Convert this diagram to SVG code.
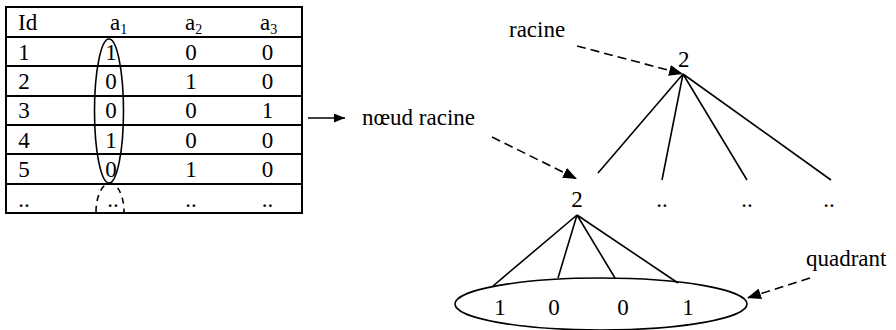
<svg xmlns="http://www.w3.org/2000/svg" width="896" height="330" viewBox="0 0 896 330">
<defs>
<style>
text{font-family:'Liberation Serif','Tinos','Times New Roman','DejaVu Serif',serif;font-size:23px;fill:#000}
.sub{font-size:14px}
.m{text-anchor:middle}
.ln{stroke:#000;stroke-width:1.6;fill:none}
.tb{stroke:#000;stroke-width:2;fill:none}
.ds{stroke:#000;stroke-width:1.6;fill:none;stroke-dasharray:9 5}
</style>
<marker id="ah" viewBox="0 0 14 11" refX="14" refY="5.5" markerWidth="14" markerHeight="11" markerUnits="userSpaceOnUse" orient="auto">
<path d="M0,0 L14,5.5 L0,11 z" fill="#000"/>
</marker>
<marker id="ahs" viewBox="0 0 11 9" refX="11" refY="4.5" markerWidth="11" markerHeight="9" markerUnits="userSpaceOnUse" orient="auto">
<path d="M0,0 L11,4.5 L0,9 z" fill="#000"/>
</marker>
</defs>
<rect width="896" height="330" fill="#fff"/>
<g id="table">
<rect class="tb" x="6" y="7" width="296" height="206"/>
<path class="tb" d="M6 37H302M6 66H302M6 96H302M6 125H302M6 154H302M6 184H302"/>
<text x="18" y="30">Id</text>
<text x="110" y="30">a<tspan class="sub" dy="4">1</tspan></text>
<text x="185" y="30">a<tspan class="sub" dy="4">2</tspan></text>
<text x="260" y="30">a<tspan class="sub" dy="4">3</tspan></text>
<g class="m">
<text x="24" y="60">1</text><text x="111" y="60">1</text><text x="191" y="60">0</text><text x="267.5" y="60">0</text>
<text x="24" y="89">2</text><text x="111" y="89">0</text><text x="191" y="89">1</text><text x="267.5" y="89">0</text>
<text x="24" y="118">3</text><text x="111" y="118">0</text><text x="191" y="118">0</text><text x="267.5" y="118">1</text>
<text x="24" y="148">4</text><text x="111" y="148">1</text><text x="191" y="148">0</text><text x="267.5" y="148">0</text>
<text x="24" y="177">5</text><text x="111" y="177">0</text><text x="191" y="177">1</text><text x="267.5" y="177">0</text>
<text x="24" y="207">..</text><text x="113" y="207">..</text><text x="191" y="207">..</text><text x="267.5" y="207">..</text>
</g>
<ellipse class="ln" cx="109" cy="111" rx="14.5" ry="72"/>
<path class="ln" stroke-dasharray="6 5" d="M96 212C96 195 103 183 110 183C117 183 124 195 124 212"/>
</g>
<g id="top-node">
<text x="678" y="67">2</text>
</g>
<g id="child-nodes">
<text x="577" y="207" class="m">2</text>
<text x="662" y="207" class="m">..</text>
<text x="747" y="207" class="m">..</text>
<text x="829" y="207" class="m">..</text>
</g>
<g id="quadrant">
<ellipse class="ln" cx="601" cy="304" rx="146" ry="26"/>
<text x="500" y="315" class="m">1</text>
<text x="554" y="315" class="m">0</text>
<text x="623" y="315" class="m">0</text>
<text x="688" y="315" class="m">1</text>
</g>
<g id="labels">
<text x="509" y="37">racine</text>
<text x="362" y="125">nœud racine</text>
<text x="806" y="266">quadrant</text>
</g>
<g id="connectors">
<path class="ln" d="M683 74L598 173M683 74L662 180M683 74L747 180M683 74L831 180"/>
<path class="ln" d="M577 215L493 286M577 215L558 278M577 215L615 278M577 215L678 283"/>
<line x1="308" y1="118" x2="345" y2="118" stroke="#000" stroke-width="1.6" marker-end="url(#ahs)"/>
<line class="ds" x1="577" y1="46" x2="683" y2="74" marker-end="url(#ah)"/>
<line class="ds" x1="492" y1="137" x2="577" y2="179" marker-end="url(#ah)"/>
<line class="ds" x1="810" y1="278" x2="747" y2="298" marker-end="url(#ah)"/>
</g>
</svg>
